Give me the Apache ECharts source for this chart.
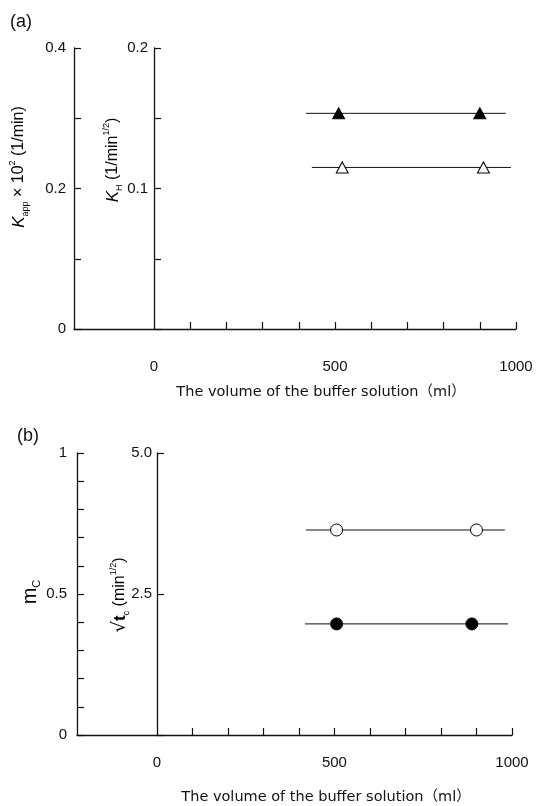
<!DOCTYPE html>
<html>
<head>
<meta charset="utf-8">
<script src="https://cdn.jsdelivr.net/npm/echarts@6/dist/echarts.min.js"></script>
<style>
  html, body { margin: 0; padding: 0; background: #fff; }
  #chart { width: 538px; height: 806px; }
</style>
</head>
<body>
<div id="chart"></div>
<script>
// Panel (a): rate constants vs. buffer volume
const kappVolume = [510, 900];
const kappValue = [0.307, 0.307];
const kappFitVolume = [420, 972];
const kappFitValue = [0.307, 0.307];

const khVolume = [520, 910];
const khValue = [0.115, 0.115];
const khFitVolume = [436, 986];
const khFitValue = [0.115, 0.115];

// Panel (b): m_C and sqrt(t_c) vs. buffer volume
const mcVolume = [506, 900];
const mcValue = [0.727, 0.727];
const mcFitVolume = [420, 980];
const mcFitValue = [0.727, 0.727];

const tcVolume = [506, 887];
const tcValue = [1.97, 1.97];
const tcFitVolume = [417, 989];
const tcFitValue = [1.97, 1.97];

// Tick and label positions
const volumeTicks = [100, 200, 300, 400, 500, 600, 700, 800, 900, 1000];
const volumeLabels = [0, 500, 1000];
const kappLabels = [0, 0.2, 0.4];
const khLabels = [0.1, 0.2];
const mcLabels = [0, 0.5, 1];
const tcLabels = [2.5, 5];

const pair = (xs, ys) => xs.map((x, i) => [x, ys[i]]);

const INK = '#111';
const NUM_FONT = '"Liberation Sans", Arial, sans-serif';
const TXT_FONT = '"DejaVu Sans", "Noto Sans CJK JP", sans-serif';

function xAxisCfg(grid, min, labelMargin) {
  return {
    gridIndex: grid, type: 'value', min: min, max: 1000,
    axisLine: { show: true, onZero: false, lineStyle: { color: INK, width: 1.3 } },
    axisTick: { show: true, inside: true, length: 7, customValues: volumeTicks,
                lineStyle: { color: INK, width: 1.2 } },
    axisLabel: { customValues: volumeLabels, margin: labelMargin,
                 color: INK, fontSize: 15, fontFamily: NUM_FONT,
                 formatter: v => String(v) },
    splitLine: { show: false }
  };
}

function yAxisCfg(grid, min, max, interval, labels, offset, margin, fmt) {
  return {
    gridIndex: grid, type: 'value', position: 'left', offset: offset,
    min: min, max: max, interval: interval,
    axisLine: { show: true, onZero: false, lineStyle: { color: INK, width: 1.3 } },
    axisTick: { show: true, inside: true, length: 7, lineStyle: { color: INK, width: 1.2 } },
    axisLabel: { customValues: labels, margin: margin, color: INK, fontSize: 15,
                 fontFamily: NUM_FONT, formatter: fmt || (v => String(v)) },
    splitLine: { show: false }
  };
}

function fitLine(xi, yi, data) {
  return {
    type: 'line', xAxisIndex: xi, yAxisIndex: yi, data: data,
    symbol: 'none', silent: true, animation: false,
    lineStyle: { color: INK, width: 1 }
  };
}

function markers(xi, yi, data, symbol, size, filled) {
  return {
    type: 'scatter', xAxisIndex: xi, yAxisIndex: yi, data: data,
    symbol: symbol, symbolSize: size, animation: false, z: 5,
    itemStyle: { color: filled ? '#000' : '#fff', borderColor: '#000',
                 borderWidth: 1, opacity: 1 }
  };
}

const LH = 22;
const supSub = {
  n: { fontSize: 16, fontFamily: NUM_FONT, lineHeight: LH, color: INK },
  k: { fontSize: 17, fontStyle: 'italic', fontFamily: NUM_FONT, lineHeight: LH, color: INK },
  sub: { fontSize: 9, fontFamily: NUM_FONT, verticalAlign: 'bottom', lineHeight: LH, color: INK },
  sup: { fontSize: 9, fontFamily: NUM_FONT, verticalAlign: 'top', lineHeight: LH, color: INK },
  m: { fontSize: 20, fontFamily: NUM_FONT, lineHeight: 24, color: INK },
  msub: { fontSize: 11, fontFamily: NUM_FONT, verticalAlign: 'bottom', lineHeight: 24, color: INK },
  t: { fontSize: 17, fontWeight: 'bold', fontFamily: NUM_FONT, lineHeight: LH, color: INK },
  r: { fontSize: 18, fontFamily: '"DejaVu Sans", sans-serif', lineHeight: LH, color: INK }
};

function vText(x, y, text) {
  return {
    type: 'text', x: x, y: y, rotation: Math.PI / 2,
    style: { text: text, align: 'center', verticalAlign: 'middle', rich: supSub }
  };
}

function plainText(x, y, text, size, align, font) {
  return {
    type: 'text', x: x, y: y,
    style: { text: text, fill: INK, fontSize: size, fontFamily: font || TXT_FONT,
             align: align || 'left', verticalAlign: 'middle' }
  };
}

const chart = echarts.init(document.getElementById('chart'), null, { renderer: 'canvas' });
chart.setOption({
  backgroundColor: '#fff',
  animation: false,
  grid: [
    { left: 74, top: 48, width: 442, height: 281 },
    { left: 77, top: 453, width: 435, height: 282 }
  ],
  xAxis: [
    xAxisCfg(0, -221, 30),
    xAxisCfg(1, -225, 20)
  ],
  yAxis: [
    yAxisCfg(0, 0, 0.4, 0.1, kappLabels, 0, 8),
    yAxisCfg(0, 0, 0.2, 0.05, khLabels, -80, 6),
    yAxisCfg(1, 0, 1, 0.1, mcLabels, 0, 10),
    yAxisCfg(1, 0, 5, 2.5, tcLabels, -80, 5, v => v.toFixed(1))
  ],
  series: [
    fitLine(0, 0, pair(kappFitVolume, kappFitValue)),
    markers(0, 0, pair(kappVolume, kappValue), 'triangle', [12, 11], true),
    fitLine(0, 1, pair(khFitVolume, khFitValue)),
    markers(0, 1, pair(khVolume, khValue), 'triangle', [12, 11], false),
    fitLine(1, 2, pair(mcFitVolume, mcFitValue)),
    markers(1, 2, pair(mcVolume, mcValue), 'circle', 12, false),
    fitLine(1, 3, pair(tcFitVolume, tcFitValue)),
    markers(1, 3, pair(tcVolume, tcValue), 'circle', 12, true)
  ],
  graphic: [
    plainText(10, 22, '(a)', 18, 'left', NUM_FONT),
    plainText(17, 436, '(b)', 18, 'left', NUM_FONT),
    plainText(321, 392, 'The volume of the buffer solution（ml）', 14.5, 'center'),
    plainText(326, 797, 'The volume of the buffer solution（ml）', 14.5, 'center'),
    vText(19, 167, '{k|K}{sub|app}{n| × 10}{sup|2}{n| (1/min)}'),
    vText(113, 160, '{k|K}{sub|H}{n| (1/min}{sup|1/2}{n|)}'),
    vText(30, 592, '{m|m}{msub|C}'),
    vText(120, 595, '{r|√}{t|t}{sub|c}{n| (min}{sup|1/2}{n|)}')
  ]
});
</script>
</body>
</html>
